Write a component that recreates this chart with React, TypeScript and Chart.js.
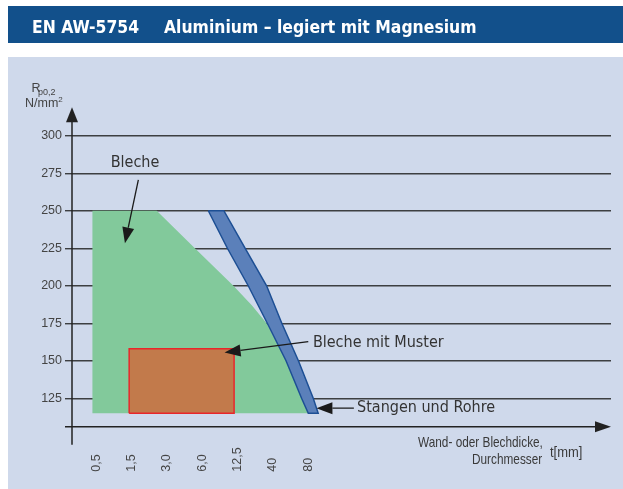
import React, { useEffect, useRef } from 'react';
import { Chart, registerables } from 'chart.js';

Chart.register(...registerables);

// Category labels of the thickness axis (x = index into this list)
const xLabels = ['0,5', '1,5', '3,0', '6,0', '12,5', '40', '80'];
// Rp0,2 tick values
const yTicks = [125, 150, 175, 200, 225, 250, 275, 300];

// "Bleche" area (x = category index, y = N/mm²)
const blecheX = [-0.11, 1.71, 2.79, 3.88, 4.4, 4.82, 5.37, 5.81, 6.0, -0.11];
const blecheY = [250, 250, 225, 200, 187, 175, 150, 125, 115, 115];

// "Stangen und Rohre" band (closed outline)
const stangenX = [3.17, 3.71, 4.3, 4.84, 5.37, 5.81, 6.0, 6.28, 6.14, 5.72, 5.25, 4.82, 4.21, 3.61, 3.17];
const stangenY = [250, 225, 200, 175, 150, 125, 115, 115, 125, 150, 175, 200, 225, 250, 250];

// "Bleche mit Muster" rectangle (closed outline)
const musterX = [0.93, 0.93, 3.9, 3.9, 0.93];
const musterY = [115, 158, 158, 115, 115];

const TITLE_CODE = 'EN AW-5754';
const TITLE_TEXT = 'Aluminium – legiert mit Magnesium';

const pts = (xs: number[], ys: number[]) => xs.map((x, i) => ({ x, y: ys[i] }));

function arrow(ctx: CanvasRenderingContext2D, x1: number, y1: number, x2: number, y2: number, len = 16, half = 6) {
  const ang = Math.atan2(y2 - y1, x2 - x1);
  const bx = x2 - len * Math.cos(ang);
  const by = y2 - len * Math.sin(ang);
  ctx.beginPath();
  ctx.moveTo(x1, y1);
  ctx.lineTo(bx, by);
  ctx.stroke();
  ctx.beginPath();
  ctx.moveTo(x2, y2);
  ctx.lineTo(bx + half * Math.sin(ang), by - half * Math.cos(ang));
  ctx.lineTo(bx - half * Math.sin(ang), by + half * Math.cos(ang));
  ctx.closePath();
  ctx.fill();
}

function narrowText(ctx: CanvasRenderingContext2D, text: string, x: number, y: number, align: CanvasTextAlign, squeeze = 0.82) {
  ctx.save();
  ctx.translate(x, y);
  ctx.scale(squeeze, 1);
  ctx.textAlign = align;
  ctx.fillText(text, 0, 0);
  ctx.restore();
}

const overlay = {
  id: 'overlay',
  beforeDraw(chart: any) {
    const ctx: CanvasRenderingContext2D = chart.ctx;
    ctx.save();
    ctx.fillStyle = '#ffffff';
    ctx.fillRect(0, 0, chart.width, chart.height);
    ctx.fillStyle = '#12508b';
    ctx.fillRect(8, 6, chart.width - 8, 37);
    ctx.fillStyle = '#cfd9eb';
    ctx.fillRect(8, 57, chart.width - 8, chart.height - 57);
    ctx.restore();
  },
  afterDraw(chart: any) {
    const ctx: CanvasRenderingContext2D = chart.ctx;
    const a = chart.chartArea;
    const xs = chart.scales.x;
    const ys = chart.scales.y;
    const X = (v: number) => xs.getPixelForValue(v);
    const Y = (v: number) => ys.getPixelForValue(v);
    ctx.save();

    // title
    ctx.fillStyle = '#ffffff';
    ctx.font = 'bold 17.4px "DejaVu Sans Condensed", "DejaVu Sans", sans-serif';
    ctx.textAlign = 'left';
    ctx.textBaseline = 'alphabetic';
    ctx.fillText(TITLE_CODE, 32, 32.7);
    ctx.fillText(TITLE_TEXT, 164, 32.7);

    // axes
    ctx.strokeStyle = '#222';
    ctx.fillStyle = '#222';
    ctx.lineWidth = 1.5;
    const axY = Y(106.1);
    ctx.beginPath();
    ctx.moveTo(a.left - 7, axY);
    ctx.lineTo(a.right - 14, axY);
    ctx.stroke();
    ctx.beginPath();
    ctx.moveTo(a.right, axY);
    ctx.lineTo(a.right - 16, axY - 5.5);
    ctx.lineTo(a.right - 16, axY + 5.5);
    ctx.closePath();
    ctx.fill();
    const tipY = a.top + 1.6;
    ctx.beginPath();
    ctx.moveTo(a.left, a.bottom + 9);
    ctx.lineTo(a.left, tipY + 13);
    ctx.stroke();
    ctx.beginPath();
    ctx.moveTo(a.left, tipY);
    ctx.lineTo(a.left - 6, tipY + 15);
    ctx.lineTo(a.left + 6, tipY + 15);
    ctx.closePath();
    ctx.fill();

    // x category labels (rotated)
    ctx.font = '12.5px "Liberation Sans", Arial, sans-serif';
    ctx.fillStyle = '#444';
    xLabels.forEach((lab, i) => {
      ctx.save();
      ctx.translate(X(i), Y(76.1));
      ctx.rotate(-Math.PI / 2);
      ctx.textAlign = 'left';
      ctx.textBaseline = 'middle';
      ctx.fillText(lab, 0, 0);
      ctx.restore();
    });

    // y axis title
    ctx.textAlign = 'left';
    ctx.textBaseline = 'alphabetic';
    ctx.font = '12.5px "Liberation Sans", Arial, sans-serif';
    ctx.fillText('R', 31.5, 91.7);
    ctx.font = '9px "Liberation Sans", Arial, sans-serif';
    ctx.fillText('p0,2', 38, 94.5);
    ctx.font = '12.5px "Liberation Sans", Arial, sans-serif';
    ctx.fillText('N/mm', 25, 106.7);
    ctx.font = '8px "Liberation Sans", Arial, sans-serif';
    ctx.fillText('2', 58.3, 101.5);

    // annotations
    ctx.fillStyle = '#333';
    ctx.font = '16px "DejaVu Sans Condensed", "DejaVu Sans", sans-serif';
    ctx.textBaseline = 'middle';
    ctx.textAlign = 'center';
    ctx.fillText('Bleche', X(1.095), Y(281.8));
    ctx.textAlign = 'left';
    ctx.fillText('Bleche mit Muster', X(6.13), Y(162.1));
    ctx.fillText('Stangen und Rohre', X(7.38), Y(118.5));

    ctx.strokeStyle = '#1a1a1a';
    ctx.fillStyle = '#1a1a1a';
    ctx.lineWidth = 1.3;
    arrow(ctx, X(1.19), Y(270.5), X(0.81), Y(228.3));
    arrow(ctx, X(6.0), Y(162.7), X(3.63), Y(155.5));
    arrow(ctx, X(7.29), Y(118.5), X(6.23), Y(118.3));

    // axis caption
    ctx.fillStyle = '#3a3a3a';
    ctx.font = '14.4px "Liberation Sans", Arial, sans-serif';
    ctx.textBaseline = 'middle';
    narrowText(ctx, 'Wand- oder Blechdicke,', X(12.64), Y(95.2), 'right');
    narrowText(ctx, 'Durchmesser', X(12.62), Y(83.9), 'right');
    narrowText(ctx, 't[mm]', X(12.84), Y(88.6), 'left', 0.9);

    ctx.restore();
  },
};

export default function App() {
  const ref = useRef<HTMLCanvasElement>(null);
  useEffect(() => {
    const chart = new Chart(ref.current as HTMLCanvasElement, {
      type: 'line',
      data: {
        datasets: [
          {
            label: 'Bleche mit Muster',
            data: pts(musterX, musterY),
            borderColor: '#e8262b',
            borderWidth: 1.5,
            borderJoinStyle: 'miter',
            backgroundColor: '#c27a4b',
            fill: 'shape',
            pointRadius: 0,
            order: 1,
          },
          {
            label: 'Stangen und Rohre',
            data: pts(stangenX, stangenY),
            borderColor: '#1d4f94',
            borderWidth: 1.5,
            backgroundColor: '#5b80ba',
            fill: 'shape',
            pointRadius: 0,
            order: 2,
          },
          {
            label: 'Bleche',
            data: pts(blecheX, blecheY),
            borderWidth: 0,
            borderColor: 'rgba(0,0,0,0)',
            backgroundColor: '#82c99b',
            fill: 'shape',
            pointRadius: 0,
            order: 3,
          },
        ],
      } as any,
      options: {
        animation: false,
        responsive: false,
        devicePixelRatio: 1,
        events: [],
        layout: { padding: { left: 0, right: 12, top: 105.7, bottom: 53.2 } },
        plugins: {
          legend: { display: false },
          tooltip: { enabled: false },
          title: { display: false },
        },
        elements: { line: { tension: 0 }, point: { radius: 0 } },
        scales: {
          x: { type: 'linear', display: false, min: -0.688, max: 14.568 },
          y: {
            type: 'linear',
            min: 100,
            max: 320,
            z: 1,
            afterBuildTicks: (s: any) => {
              s.ticks = yTicks.map((v) => ({ value: v }));
            },
            afterFit: (s: any) => {
              s.width = 72;
            },
            border: { display: false },
            grid: { color: 'rgba(35,35,35,0.85)', lineWidth: 1.4, tickLength: 7, drawTicks: true },
            ticks: {
              padding: 3,
              color: '#444',
              font: { family: '"Liberation Sans", Arial, sans-serif', size: 12.5 },
              callback: (v: any) => String(v),
            },
          },
        },
      } as any,
      plugins: [overlay],
    });
    return () => chart.destroy();
  }, []);
  return (
    <canvas
      ref={ref}
      width={623}
      height={489}
      style={{ position: 'absolute', left: 0, top: 0, width: 623, height: 489 }}
    />
  );
}
